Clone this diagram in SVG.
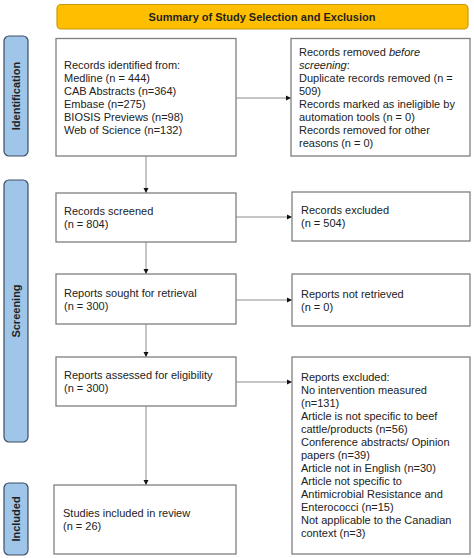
<svg xmlns="http://www.w3.org/2000/svg" width="474" height="558" viewBox="0 0 474 558">
<defs>
<style>
.box{fill:#fff;stroke:#7f7f7f;stroke-width:1.3}
.side{fill:#9fc5e8;stroke:#3d4f63;stroke-width:1.2}
.t{font-family:"Liberation Sans",Arial,sans-serif;font-size:11px;fill:#222}
.st{font-family:"Liberation Sans",Arial,sans-serif;font-size:11px;font-weight:bold;fill:#1f1f1f}
.c{stroke:#8c8c8c;stroke-width:1;fill:none;marker-end:url(#ah)}
</style>
<marker id="ah" markerWidth="6" markerHeight="6" refX="5" refY="3" orient="auto" markerUnits="userSpaceOnUse">
<path d="M0,0.5 L5,3 L0,5.5 z" fill="#111"/>
</marker>
</defs>
<rect width="474" height="558" fill="#fff"/>
<g id="header">
<rect x="57" y="4.5" width="411" height="24.5" rx="4" fill="#ffbf00" stroke="#c99a10" stroke-width="1.2"/>
<text class="st" x="262" y="21" text-anchor="middle">Summary of Study Selection and Exclusion</text>
</g>
<g id="side-identification">
<rect class="side" x="4" y="36" width="24" height="120" rx="5"/>
<text class="st" transform="translate(20,96) rotate(-90)" text-anchor="middle">Identification</text>
</g>
<g id="side-screening">
<rect class="side" x="4" y="180" width="24" height="262" rx="5"/>
<text class="st" transform="translate(20,311) rotate(-90)" text-anchor="middle">Screening</text>
</g>
<g id="side-included">
<rect class="side" x="4" y="483" width="24" height="72" rx="5"/>
<text class="st" transform="translate(20,519) rotate(-90)" text-anchor="middle">Included</text>
</g>
<g id="connectors">
<line class="c" x1="236" y1="98" x2="291" y2="98"/>
<line class="c" x1="236" y1="217" x2="292" y2="217"/>
<line class="c" x1="236" y1="300" x2="292" y2="300"/>
<line class="c" x1="236" y1="382" x2="292" y2="382"/>
<line class="c" x1="146" y1="156" x2="146" y2="193"/>
<line class="c" x1="146" y1="242" x2="146" y2="274"/>
<line class="c" x1="146" y1="324" x2="146" y2="357"/>
<line class="c" x1="146" y1="406" x2="146" y2="485"/>
</g>
<g id="records-identified">
<rect class="box" x="56" y="38.5" width="180" height="117.5"/>
<text class="t" x="64" y="69">Records identified from:</text>
<text class="t" x="64" y="82">Medline (n = 444)</text>
<text class="t" x="64" y="95">CAB Abstracts (n=364)</text>
<text class="t" x="64" y="108">Embase (n=275)</text>
<text class="t" x="64" y="121">BIOSIS Previews (n=98)</text>
<text class="t" x="64" y="134">Web of Science (n=132)</text>
</g>
<g id="records-removed">
<rect class="box" x="291" y="38.5" width="179" height="117.5"/>
<text class="t" x="299" y="56">Records removed <tspan font-style="italic">before</tspan></text>
<text class="t" x="299" y="69"><tspan font-style="italic">screening</tspan>:</text>
<text class="t" x="299" y="82">Duplicate records removed (n =</text>
<text class="t" x="299" y="95">509)</text>
<text class="t" x="299" y="108">Records marked as ineligible by</text>
<text class="t" x="299" y="121">automation tools (n = 0)</text>
<text class="t" x="299" y="134">Records removed for other</text>
<text class="t" x="299" y="147">reasons (n = 0)</text>
</g>
<g id="records-screened">
<rect class="box" x="56" y="193" width="180" height="49"/>
<text class="t" x="64" y="215">Records screened</text>
<text class="t" x="64" y="228">(n = 804)</text>
</g>
<g id="records-excluded">
<rect class="box" x="292" y="192" width="178" height="49"/>
<text class="t" x="301" y="214">Records excluded</text>
<text class="t" x="301" y="227">(n = 504)</text>
</g>
<g id="reports-sought">
<rect class="box" x="56" y="274" width="180" height="50"/>
<text class="t" x="64" y="297">Reports sought for retrieval</text>
<text class="t" x="64" y="310">(n = 300)</text>
</g>
<g id="reports-not-retrieved">
<rect class="box" x="292" y="274" width="178" height="52"/>
<text class="t" x="301" y="298">Reports not retrieved</text>
<text class="t" x="301" y="311">(n = 0)</text>
</g>
<g id="reports-assessed">
<rect class="box" x="56" y="357" width="180" height="49"/>
<text class="t" x="64" y="379">Reports assessed for eligibility</text>
<text class="t" x="64" y="392">(n = 300)</text>
</g>
<g id="reports-excluded">
<rect class="box" x="292" y="357" width="178" height="197"/>
<text class="t" x="301" y="381">Reports excluded:</text>
<text class="t" x="301" y="394">No intervention measured</text>
<text class="t" x="301" y="407">(n=131)</text>
<text class="t" x="301" y="420">Article is not specific to beef</text>
<text class="t" x="301" y="433">cattle/products (n=56)</text>
<text class="t" x="301" y="446">Conference abstracts/ Opinion</text>
<text class="t" x="301" y="459">papers (n=39)</text>
<text class="t" x="301" y="472">Article not in English (n=30)</text>
<text class="t" x="301" y="485">Article not specific to</text>
<text class="t" x="301" y="498">Antimicrobial Resistance and</text>
<text class="t" x="301" y="511">Enterococci (n=15)</text>
<text class="t" x="301" y="524">Not applicable to the Canadian</text>
<text class="t" x="301" y="537">context (n=3)</text>
</g>
<g id="studies-included">
<rect class="box" x="54" y="485" width="182" height="69"/>
<text class="t" x="63" y="517">Studies included in review</text>
<text class="t" x="63" y="530">(n = 26)</text>
</g>
</svg>
